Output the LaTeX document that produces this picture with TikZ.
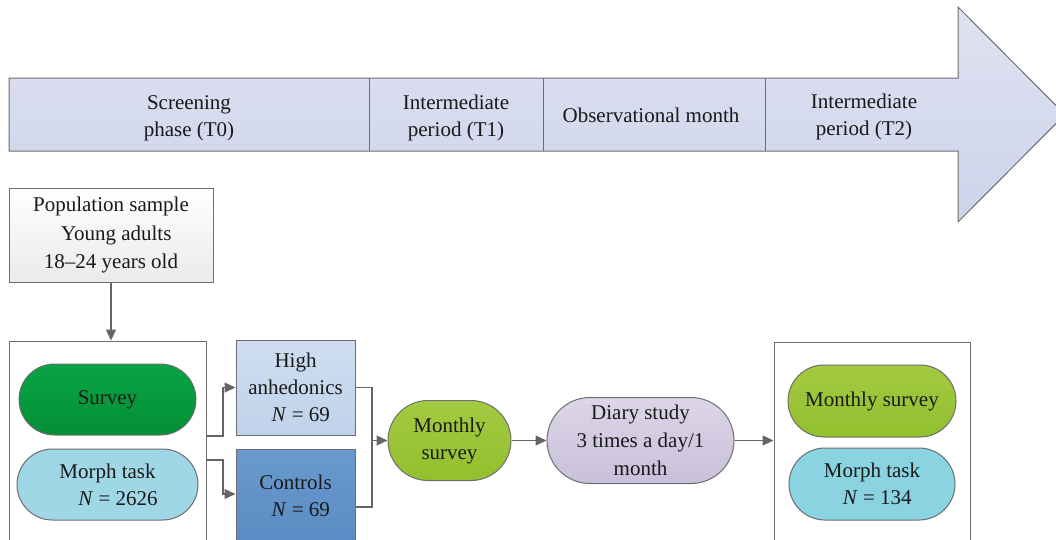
\documentclass[tikz,border=0pt]{standalone}
\usepackage{fontspec}
\setmainfont{Liberation Serif}
\usetikzlibrary{arrows.meta,shapes.misc}
\definecolor{linegray}{HTML}{6E6E6E}
\definecolor{arrgray}{HTML}{666666}
\definecolor{bartop}{HTML}{DFE2F1}
\definecolor{barbot}{HTML}{CDD3EA}
\definecolor{survtop}{HTML}{08A443}
\definecolor{survbot}{HTML}{058F36}
\definecolor{morph}{HTML}{A0D7E7}
\definecolor{hightop}{HTML}{CFDEF0}
\definecolor{highbot}{HTML}{BFD2EA}
\definecolor{ctrltop}{HTML}{6A9BCE}
\definecolor{ctrlbot}{HTML}{5788C0}
\definecolor{msurvtop}{HTML}{A3CA42}
\definecolor{msurvbot}{HTML}{92C02E}
\definecolor{diarytop}{HTML}{DCD6E8}
\definecolor{diarybot}{HTML}{C9C0DA}
\definecolor{morphr}{HTML}{8AD3E1}
\begin{document}
\begin{tikzpicture}[x=1pt,y=-1pt,
  font=\fontsize{21}{27}\selectfont,
  bd/.style={draw=linegray, line width=1pt},
  box/.style={bd, align=center, inner sep=0pt, text=black!90},
  pill/.style={box, rounded rectangle},
  conn/.style={draw=arrgray, line width=1.2pt},
  arr/.style={conn, -{Triangle[length=11pt,width=10pt]}},
  lbl/.style={align=center, inner sep=0pt, text=black!90},
]
\clip (0,0) rectangle (1056,539);
% timeline arrow
\draw[bd, top color=bartop, bottom color=barbot]
  (9,78) -- (958,78) -- (958,7) -- (1065,114.5) -- (958,222) -- (958,151) -- (9,151) -- cycle;
\foreach \x in {369,543,765} \draw[bd] (\x,78) -- (\x,151);
\node[lbl] (t0) at (189,118) {Screening\\phase (T0)};
\node[lbl] (t1) at (456,118) {Intermediate\\period (T1)};
\node[lbl] (om) at (651,115) {Observational month};
\node[lbl] (t2) at (864,117) {Intermediate\\period (T2)};

% population
\node[box, top color=white, bottom color=black!8, minimum width=204pt, minimum height=94pt, font=\fontsize{21}{28.5}\selectfont] (pop) at (111,235)
  {Population sample\\\ \ Young adults\\18--24 years old};
\node[box, fill=white, minimum width=197pt, minimum height=219pt] (lbox) at (107.5,450.5) {};
\draw[arr] (pop.south) -- (pop.south |- lbox.north);

\node[pill, top color=survtop, bottom color=survbot, minimum width=177pt, minimum height=71pt] (surv) at (107.5,399.5) {Survey};
\node[pill, fill=morph, minimum width=181pt, minimum height=71pt] (morph) at (107.5,484.5) {Morph task\\\quad\textit{N} = 2626};

\node[box, top color=hightop, bottom color=highbot, minimum width=119pt, minimum height=95pt] (high) at (295.5,387.5) {High\\anhedonics\\\ \ \textit{N} = 69};
\node[box, top color=ctrltop, bottom color=ctrlbot, minimum width=119pt, minimum height=111pt] (ctrl) at (295.5,504.5) {};
\node[lbl] (ctrltxt) at (295.5,496) {Controls\\\ \ \textit{N} = 69};

\coordinate (ja) at (206,436);
\coordinate (jb) at (206,460);
\coordinate (ka) at (223,436);
\coordinate (kb) at (223,460);
\coordinate (kc) at (223,494);
\draw[arr] (ja) -- (ka) -- (ka |- high.west) -- (high.west);
\draw[arr] (jb) -- (kb) -- (kc) -- (ctrl.west |- kc);

\node[pill, top color=msurvtop, bottom color=msurvbot, minimum width=123pt, minimum height=80pt] (msurv) at (449.5,440.5) {Monthly\\survey};
\coordinate (ma) at (372,387.5);
\coordinate (mb) at (372,507);
\coordinate (mc) at (372,440.5);
\draw[conn] (high.east) -- (ma) -- (mb) -- (ctrl.east |- mb);
\draw[arr] (mc) -- (msurv.west);

\node[pill, top color=diarytop, bottom color=diarybot, minimum width=187pt, minimum height=86pt, font=\fontsize{21}{28}\selectfont] (diary) at (640.5,440.5) {Diary study\\3 times a day/1\\month};
\draw[arr] (msurv.east) -- (diary.west);

\node[box, fill=white, minimum width=196pt, minimum height=218pt] (rbox) at (872,451) {};
\draw[arr] (diary.east) -- (rbox.west |- diary.east);

\node[pill, top color=msurvtop, bottom color=msurvbot, minimum width=168pt, minimum height=72pt] (msurv2) at (872,401) {Monthly survey};
\node[pill, fill=morphr, minimum width=166pt, minimum height=72pt] (morph2) at (872,484) {Morph task\\\ \ \textit{N} = 134};
\end{tikzpicture}
\end{document}
